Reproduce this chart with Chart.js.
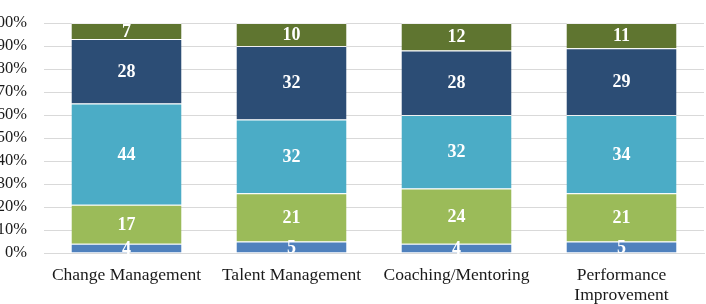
<!DOCTYPE html>
<html>
<head>
<meta charset="utf-8">
<script src="https://cdn.jsdelivr.net/npm/chart.js@4.4.1/dist/chart.umd.min.js"></script>
<style>
  html, body { margin: 0; padding: 0; background: #ffffff; }
  #wrap { position: relative; width: 706px; height: 304px; }
</style>
</head>
<body>
<div id="wrap"><canvas id="c" width="706" height="304"></canvas></div>
<script>
const categories = ['Change Management', 'Talent Management', 'Coaching/Mentoring', ['Performance', 'Improvement']];
const series1 = [4, 5, 4, 5];
const series2 = [17, 21, 24, 21];
const series3 = [44, 32, 32, 34];
const series4 = [28, 32, 28, 29];
const series5 = [7, 10, 12, 11];
const yTicks = [0, 10, 20, 30, 40, 50, 60, 70, 80, 90, 100];

const colors = ['#4F81BD', '#9BBB59', '#4BACC6', '#2C4D75', '#5F7530'];
const seriesList = [series1, series2, series3, series4, series5];

const labelPlugin = {
  id: 'segLabels',
  afterDatasetsDraw(chart) {
    const ctx = chart.ctx;
    ctx.save();
    ctx.font = 'bold 18px "Liberation Serif", "Times New Roman", serif';
    ctx.fillStyle = '#ffffff';
    ctx.textAlign = 'center';
    ctx.textBaseline = 'middle';
    chart.data.datasets.forEach((ds, di) => {
      const meta = chart.getDatasetMeta(di);
      meta.data.forEach((el, i) => {
        const v = ds.data[i];
        const y = (el.y + el.base) / 2 + 1;
        ctx.fillText(String(v), el.x, y);
      });
    });
    ctx.restore();
  }
};

new Chart(document.getElementById('c'), {
  type: 'bar',
  data: {
    labels: categories,
    datasets: seriesList.map((s, i) => ({
      data: s,
      backgroundColor: colors[i],
      borderColor: 'rgba(255,255,255,0.6)',
      borderWidth: { top: 1, right: 0, bottom: 0, left: 0 },
      borderSkipped: false,
      categoryPercentage: 1.0,
      barPercentage: 0.667
    }))
  },
  options: {
    responsive: false,
    animation: false,
    devicePixelRatio: 1,
    layout: { padding: { top: 23, right: 2, bottom: 0, left: 0 } },
    plugins: { legend: { display: false }, tooltip: { enabled: false } },
    scales: {
      x: {
        stacked: true,
        afterFit(scale) { scale.height = 51; scale.paddingLeft = 0; scale.paddingRight = 0; },
        grid: { display: false, drawTicks: false },
        border: { display: true, color: '#d9d9d9', width: 1 },
        ticks: {
          padding: 12,
          maxRotation: 0,
          autoSkip: false,
          color: '#1a1a1a',
          font: { family: '"Liberation Serif", "Times New Roman", serif', size: 17.5, lineHeight: 1.14 }
        }
      },
      y: {
        stacked: true,
        min: 0,
        max: 100,
        afterBuildTicks(scale) { scale.ticks = yTicks.map(v => ({ value: v })); },
        afterFit(scale) { scale.width = 44; scale.paddingTop = 0; scale.paddingBottom = 0; },
        grid: { color: '#d9d9d9', drawTicks: false, lineWidth: 1 },
        border: { display: false },
        ticks: {
          padding: 17,
          autoSkip: false,
          color: '#1a1a1a',
          callback: v => v + '%',
          font: { family: '"Liberation Serif", "Times New Roman", serif', size: 16.5 }
        }
      }
    }
  },
  plugins: [labelPlugin]
});
</script>
</body>
</html>
